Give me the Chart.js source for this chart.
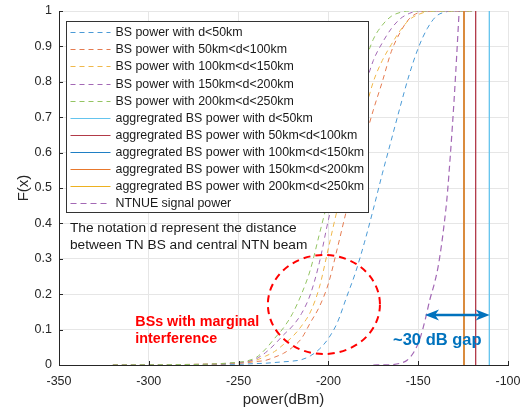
<!DOCTYPE html>
<html>
<head>
<meta charset="utf-8">
<script src="https://cdn.jsdelivr.net/npm/chart.js@4.4.1/dist/chart.umd.min.js"></script>
<style>
  html, body { margin: 0; padding: 0; background: #fff; }
  #wrap { position: relative; width: 524px; height: 415px; }
</style>
</head>
<body>
<div id="wrap"><canvas id="cdfChart"></canvas></div>
<script>
// shared power grid (dBm) for the per-distance BS power CDFs
const bsPower = [-320, -290, -270, -260, -255, -250, -245, -240, -235, -230, -225, -220, -215, -210, -205, -200,
  -195, -190, -185, -180, -175, -170, -165, -160, -155, -150, -145, -140, -135, -130, -125, -120];

const cdfD0to50 = [0, 0, 0.001, 0.001, 0.002, 0.002, 0.003, 0.004, 0.005, 0.007, 0.009, 0.011, 0.015, 0.026, 0.045, 0.075,
  0.12, 0.19, 0.26, 0.345, 0.44, 0.54, 0.635, 0.73, 0.82, 0.895, 0.95, 0.985, 0.997, 1, 1, 1];
const cdfD50to100 = [0, 0.001, 0.002, 0.003, 0.004, 0.005, 0.007, 0.01, 0.013, 0.022, 0.033, 0.05, 0.075, 0.12, 0.165, 0.23,
  0.33, 0.435, 0.53, 0.63, 0.72, 0.8, 0.885, 0.94, 0.978, 0.995, 1, 1, 1, 1, 1, 1];
const cdfD100to150 = [0, 0.001, 0.002, 0.003, 0.004, 0.006, 0.009, 0.014, 0.025, 0.038, 0.058, 0.08, 0.11, 0.15, 0.22, 0.33,
  0.44, 0.53, 0.62, 0.71, 0.8, 0.86, 0.905, 0.945, 0.975, 0.99, 0.998, 1, 1, 1, 1, 1];
const cdfD150to200 = [0, 0.001, 0.002, 0.003, 0.005, 0.007, 0.01, 0.018, 0.035, 0.058, 0.085, 0.11, 0.145, 0.2, 0.29, 0.41,
  0.51, 0.6, 0.69, 0.78, 0.86, 0.91, 0.95, 0.978, 0.993, 1, 1, 1, 1, 1, 1, 1];
const cdfD200to250 = [0, 0.001, 0.002, 0.004, 0.006, 0.008, 0.012, 0.022, 0.045, 0.075, 0.105, 0.145, 0.2, 0.27, 0.37, 0.47,
  0.57, 0.67, 0.765, 0.85, 0.92, 0.96, 0.985, 0.996, 1, 1, 1, 1, 1, 1, 1, 1];

// aggregated BS power per distance ring (dBm), drawn as vertical lines
const aggLabels = ['d<50km', '50km<d<100km', '100km<d<150km', '150km<d<200km', '200km<d<250km'];
const aggPower = [-110.4, -118.0, -124.5, -124.5, -124.5];
const aggOrder = [9, 8, 7, 5, 6]; // lower = drawn on top

// NTN UE signal power CDF
const ntnuePower = [-175, -165, -160, -156, -152, -149, -146, -143.5, -141, -139, -137, -135.5, -134, -132, -130, -128.5, -127.2];
const ntnueCdf = [0, 0.001, 0.005, 0.014, 0.04, 0.075, 0.13, 0.185, 0.23, 0.275, 0.34, 0.40, 0.47, 0.6, 0.75, 0.88, 1];

const xTicks = [-350, -300, -250, -200, -150, -100];

const bsColors = ['#4a9ad6', '#e57b50', '#f0b84a', '#a368b5', '#93c462'];
const aggColors = ['#64c4ee', '#b23a48', '#1f7fc4', '#e8782c', '#edb120'];
const ntnueColor = '#a368b5';

const bsCurves = [cdfD0to50, cdfD50to100, cdfD100to150, cdfD150to200, cdfD200to250];

const datasets = [];
bsCurves.forEach((cdf, i) => {
  datasets.push({
    label: 'BS power with ' + aggLabels[i],
    data: bsPower.map((p, k) => ({ x: p, y: cdf[k] })),
    borderColor: bsColors[i],
    borderWidth: 1,
    borderDash: [5, 4],
    pointRadius: 0,
    cubicInterpolationMode: 'monotone',
    order: 20 - i
  });
});
aggPower.forEach((p, i) => {
  datasets.push({
    label: 'aggregrated BS power with ' + aggLabels[i],
    data: [{ x: p, y: 0 }, { x: p, y: 1 }],
    borderColor: aggColors[i],
    borderWidth: 1.3,
    pointRadius: 0,
    order: aggOrder[i]
  });
});
datasets.push({
  label: 'NTNUE signal power',
  data: ntnuePower.map((p, k) => ({ x: p, y: ntnueCdf[k] })),
  borderColor: ntnueColor,
  borderWidth: 1.2,
  borderDash: [6, 4],
  pointRadius: 0,
  cubicInterpolationMode: 'monotone',
  order: 0
});

const FONT = '"Liberation Sans", Arial, Helvetica, sans-serif';

// MATLAB-style inward ticks, annotations and boxed legend
const decorations = {
  id: 'decorations',
  afterDatasetsDraw(chart) {
    const { ctx, chartArea: a, scales: { x, y } } = chart;
    ctx.save();

    // inward ticks
    ctx.strokeStyle = '#262626';
    ctx.lineWidth = 1;
    ctx.beginPath();
    x.ticks.forEach(t => {
      const px = Math.round(x.getPixelForValue(t.value)) + 0.5;
      ctx.moveTo(px, a.bottom); ctx.lineTo(px, a.bottom - 4);
    });
    y.ticks.forEach(t => {
      const py = Math.round(y.getPixelForValue(t.value)) + 0.5;
      ctx.moveTo(a.left, py); ctx.lineTo(a.left + 4, py);
    });
    ctx.stroke();

    // note text
    ctx.fillStyle = '#1a1a1a';
    ctx.font = '13.7px ' + FONT;
    ctx.textBaseline = 'middle';
    ctx.textAlign = 'left';
    ctx.fillText('The notation d represent the distance', x.getPixelForValue(-343.9), y.getPixelForValue(0.387));
    ctx.fillText('between TN BS and central NTN beam', x.getPixelForValue(-343.9), y.getPixelForValue(0.338));

    // red dashed ellipse
    const cx = x.getPixelForValue(-202.5), cy = y.getPixelForValue(0.171);
    const rx = x.getPixelForValue(-202.5 + 31.2) - cx;
    const ry = cy - y.getPixelForValue(0.171 + 0.14);
    ctx.strokeStyle = '#ff0000';
    ctx.lineWidth = 2;
    ctx.setLineDash([7, 5]);
    ctx.beginPath();
    ctx.ellipse(cx, cy, rx, ry, 0, 0, Math.PI * 2);
    ctx.stroke();
    ctx.setLineDash([]);

    ctx.fillStyle = '#ff0000';
    ctx.font = 'bold 14.3px ' + FONT;
    ctx.fillText('BSs with marginal', x.getPixelForValue(-307.5), y.getPixelForValue(0.121));
    ctx.fillText('interference', x.getPixelForValue(-307.5), y.getPixelForValue(0.072));

    // double arrow for the gap
    const ay = y.getPixelForValue(0.141);
    const ax1 = x.getPixelForValue(-146.2), ax2 = x.getPixelForValue(-110.2);
    ctx.strokeStyle = '#0072bd';
    ctx.fillStyle = '#0072bd';
    ctx.lineWidth = 2.5;
    ctx.beginPath();
    ctx.moveTo(ax1 + 6, ay); ctx.lineTo(ax2 - 6, ay);
    ctx.stroke();
    const head = (tip, dir) => {
      ctx.beginPath();
      ctx.moveTo(tip, ay);
      ctx.lineTo(tip + dir * 14, ay - 5.5);
      ctx.lineTo(tip + dir * 10, ay);
      ctx.lineTo(tip + dir * 14, ay + 5.5);
      ctx.closePath();
      ctx.fill();
    };
    head(ax1, 1);
    head(ax2, -1);

    ctx.font = 'bold 16.5px ' + FONT;
    ctx.fillText('~30 dB gap', x.getPixelForValue(-164.0), y.getPixelForValue(0.068));
    ctx.restore();
  },
  afterDraw(chart) {
    const { ctx, chartArea: a } = chart;
    const bx = a.left + 7.5, by = a.top + 10.5, bw = 302, bh = 191;
    ctx.save();
    ctx.fillStyle = '#ffffff';
    ctx.fillRect(bx, by, bw, bh);
    ctx.strokeStyle = '#333333';
    ctx.lineWidth = 1;
    ctx.strokeRect(bx, by, bw, bh);
    ctx.font = '12.4px ' + FONT;
    ctx.textBaseline = 'middle';
    ctx.textAlign = 'left';
    const items = chart.data.datasets;
    items.forEach((ds, i) => {
      const ly = Math.round(by + 10.7 + i * 17.1) + 0.5;
      ctx.strokeStyle = ds.borderColor;
      ctx.lineWidth = 1.2;
      ctx.setLineDash(ds.borderDash || []);
      ctx.beginPath();
      ctx.moveTo(bx + 4, ly); ctx.lineTo(bx + 44, ly);
      ctx.stroke();
      ctx.setLineDash([]);
      ctx.fillStyle = '#1a1a1a';
      ctx.fillText(ds.label, bx + 49, ly);
    });
    ctx.restore();
  }
};

new Chart(document.getElementById('cdfChart'), {
  type: 'line',
  data: { datasets },
  options: {
    responsive: true,
    maintainAspectRatio: false,
    animation: false,
    layout: { padding: { left: 0, right: 16, top: 11, bottom: 0 } },
    plugins: { legend: { display: false }, tooltip: { enabled: false } },
    scales: {
      x: {
        type: 'linear',
        min: -350, max: -100,
        afterBuildTicks: scale => { scale.ticks = xTicks.map(v => ({ value: v })); },
        afterFit: scale => { scale.height = 50; scale.paddingLeft = 0; scale.paddingRight = 0; },
        grid: { color: '#e6e6e6', drawTicks: false },
        border: { color: '#262626' },
        ticks: { color: '#262626', padding: 9, font: { family: FONT, size: 12.5 } },
        title: { display: true, text: 'power(dBm)', color: '#262626', padding: { top: 0, bottom: 6 },
          font: { family: FONT, size: 15 } }
      },
      y: {
        min: 0, max: 1,
        afterFit: scale => { scale.width = 59; scale.paddingTop = 0; scale.paddingBottom = 0; },
        grid: { color: '#e6e6e6', drawTicks: false },
        border: { color: '#262626' },
        ticks: { stepSize: 0.1, color: '#262626', padding: 7, font: { family: FONT, size: 12.5 },
          callback: v => String(+v.toFixed(1)) },
        title: { display: true, text: 'F(x)', color: '#262626', padding: { top: 15, bottom: 0 },
          font: { family: FONT, size: 15 } }
      }
    }
  },
  plugins: [decorations]
});
</script>
</body>
</html>
